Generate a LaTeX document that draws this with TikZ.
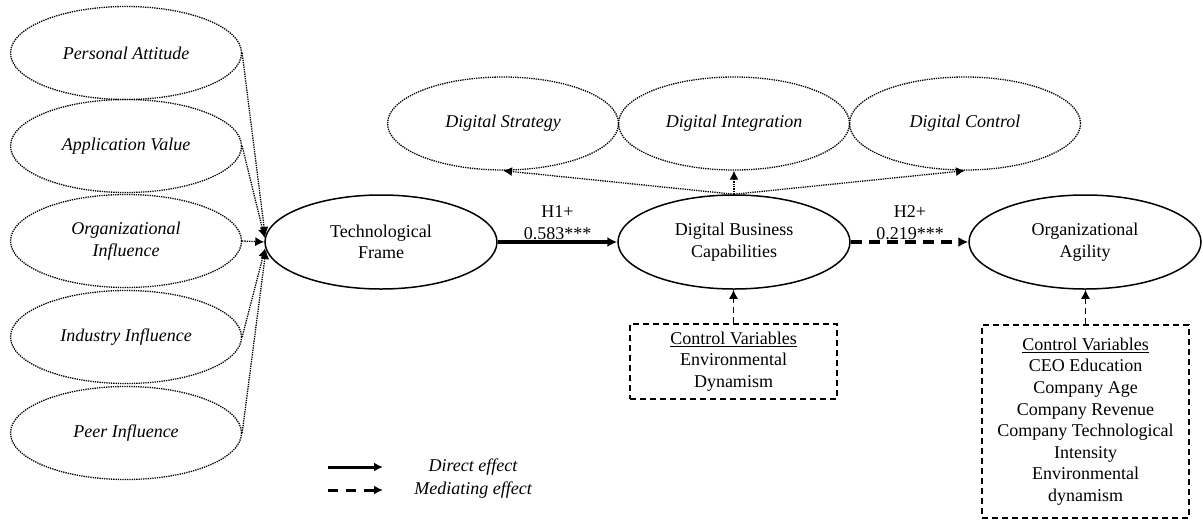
\documentclass[tikz,border=0pt]{standalone}
\usepackage{fontspec}
\setmainfont{Liberation Serif}
\usetikzlibrary{shapes.geometric,arrows.meta}
\begin{document}
\begin{tikzpicture}[x=1pt,y=-1pt,
  font=\fontsize{18}{21.6}\selectfont,
  dotell/.style={ellipse,draw,line width=1.3pt,dash pattern=on 1.3pt off 1pt,minimum width=231pt,minimum height=93pt,inner sep=0pt,align=center,font=\fontsize{18}{21.6}\selectfont\itshape},
  solell/.style={ellipse,draw,line width=1.5pt,minimum width=232pt,minimum height=94pt,inner sep=0pt,align=center},
  dotarr/.style={line width=1.3pt,dash pattern=on 1.3pt off 1pt,-{Latex[length=9pt,width=9pt]}},
  dirarr/.style={line width=3.5pt,-{Latex[length=10pt,width=10pt]}},
  medarr/.style={line width=3.5pt,dash pattern=on 11pt off 7pt,-{Latex[length=10pt,width=10pt]}},
  ctrlbox/.style={draw,line width=1.3pt,dash pattern=on 6pt off 4pt,minimum width=207pt,inner sep=0pt,align=center},
  ctrlarr/.style={line width=1.3pt,dash pattern=on 6pt off 4pt,-{Latex[length=9pt,width=9pt]}},
  legtext/.style={font=\fontsize{18}{21.6}\selectfont\itshape,anchor=center}
]
\useasboundingbox (0,0) rectangle (1203,520);
% left column
\node[dotell] (pa) at (126,53) {Personal Attitude};
\node[dotell] (av) at (126,146) {Application Value};
\node[dotell] (oi) at (126,241) {Organizational\\Influence};
\node[dotell] (ii) at (126,337) {Industry Influence};
\node[dotell] (pi) at (126,433) {Peer Influence};
% top row
\node[dotell] (ds) at (503,123.5) {Digital Strategy};
\node[dotell] (di) at (734,123.5) {Digital Integration};
\node[dotell] (dc) at (965,123.5) {Digital Control};
% main row
\node[solell] (tf) at (381,242) {Technological\\Frame};
\node[solell] (dbc) at (734,242) {Digital Business\\Capabilities};
\node[solell] (oa) at (1085,242) {Organizational\\Agility};
% control boxes
\node[ctrlbox,minimum height=75pt] (cv1) at (733.5,361.5) {\underline{Control Variables}\\Environmental\\Dynamism};
\node[ctrlbox,minimum height=193pt] (cv2) at (1085.5,421.5) {\underline{Control Variables}\\CEO Education\\Company Age\\Company Revenue\\Company Technological\\Intensity\\Environmental\\dynamism};
% left arrows
\draw[dotarr] (pa.east) -- (tf.177);
\draw[dotarr] (av.east) -- (tf.178);
\draw[dotarr] (oi.east) -- (tf.west);
\draw[dotarr] (ii.east) -- (tf.183);
\draw[dotarr] (pi.east) -- (tf.184);
% top arrows
\draw[dotarr] (dbc.north) -- (ds.south);
\draw[dotarr] (dbc.north) -- (di.south);
\draw[dotarr] (dbc.north) -- (dc.south);
% main arrows
\draw[dirarr] (tf.east) -- (dbc.west);
\draw[medarr] (dbc.east) -- (oa.west);
\node[align=center] (h1) at (557.5,222.5) {H1+\\0.583***};
\node[align=center] (h2) at (910,222.5) {H2+\\0.219***};
% control arrows
\draw[ctrlarr] (cv1.north) -- (cv1.north |- dbc.south);
\draw[ctrlarr] (cv2.north) -- (cv2.north |- oa.south);
% legend
\coordinate (la1) at (328,467);
\coordinate (lb1) at (383,467);
\coordinate (la2) at (328,490);
\coordinate (lb2) at (383,490);
\draw[line width=3pt,-{Latex[length=9pt,width=9pt]}] (la1) -- (lb1);
\draw[line width=3pt,dash pattern=on 10pt off 8pt,-{Latex[length=9pt,width=9pt]}] (la2) -- (lb2);
\node[legtext] (ld) at (473,467) {Direct effect};
\node[legtext] (lm) at (473,490) {Mediating effect};
\end{tikzpicture}
\end{document}
